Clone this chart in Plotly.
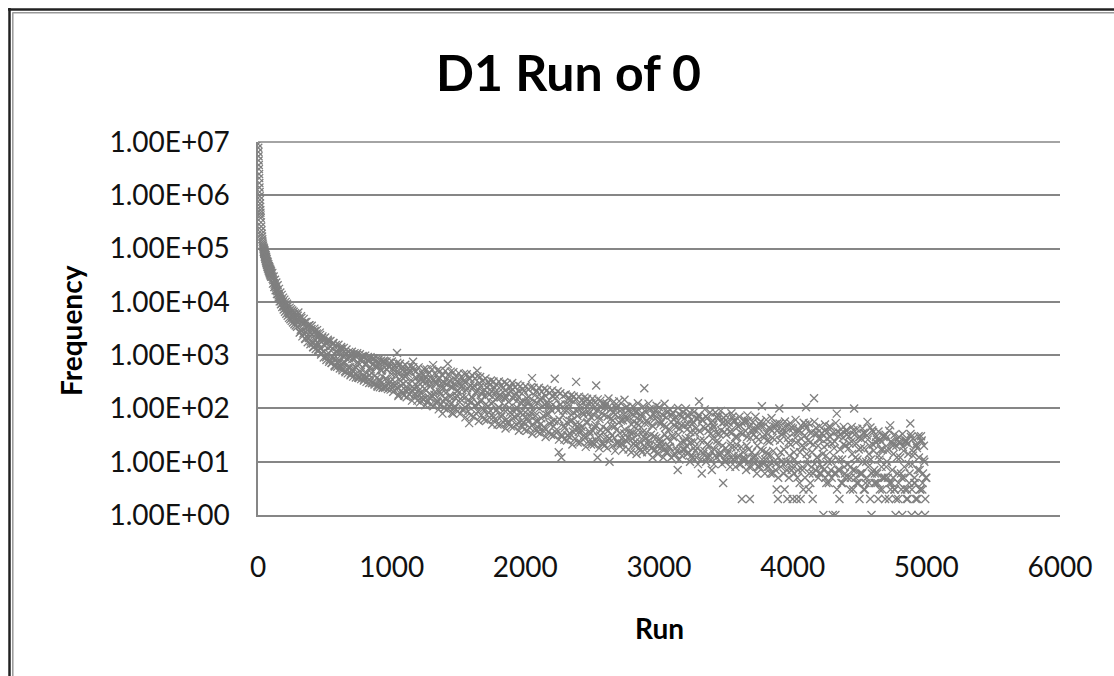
import plotly.graph_objects as go

# ---------------- data ----------------
runs_head = [1, 2, 3, 4, 5, 6, 7, 8, 9, 10, 11, 12, 13, 14, 15, 16, 17, 18, 19, 20,
             22, 24, 26, 28, 30, 32, 34, 36, 38, 40]
freq_head = [9200000, 7800000, 6500000, 5400000, 4500000, 3700000, 3100000, 2500000, 2100000, 1700000,
             1400000, 1150000, 960000, 820000, 700000, 610000, 530000, 470000, 420000, 375000,
             310000, 260000, 220000, 190000, 168000, 150000, 135000, 124000, 114000, 106000]

runs_b = list(range(42, 101, 2))
freq_b = [99000, 93000, 89000, 83000, 80000, 75000, 72000, 68000, 66000, 62000,
          60000, 57000, 55500, 53000, 51000, 49500, 47000, 46000, 44500, 43000,
          41500, 40500, 39000, 38000, 37000, 36000, 35000, 34200, 33000, 32500]

runs_b2 = list(range(43, 100, 2))
freq_b2 = [86000, 100000, 80000, 92000, 70000, 82000, 64000, 76000, 58000, 70000,
           53000, 64000, 49000, 58000, 45000, 55000, 42000, 51000, 39000, 47000,
           37000, 44500, 34500, 42000, 32500, 40000, 31000, 37500, 29500]

runs_c = list(range(105, 301, 5))
freq_c = [30000, 27000, 25500, 22500, 21000, 19500, 18500, 16500, 15800, 14000,
          13200, 12000, 11500, 10200, 10800, 9300, 9800, 8600, 8200, 8800,
          7600, 7900, 7000, 7400, 6600, 6200, 6800, 5900, 6300, 5500,
          5200, 5800, 5000, 5300, 4700, 5100, 4500, 4300, 4800, 4200]

runs_c2 = list(range(107, 298, 5))
freq_c2 = [35000, 22000, 30000, 19000, 26000, 16500, 23000, 14000, 20500, 12000,
           17500, 10200, 15000, 9000, 13500, 8000, 12000, 7200, 11000, 6500,
           10000, 6000, 9200, 5500, 8500, 5000, 7800, 4700, 7300, 4400,
           6900, 4100, 6500, 3800, 6100, 3600, 5800, 3400, 5500]

runs_d = list(range(310, 5001, 10))
freq_d = [
    4800, 3000, 4000, 2550, 4150, 2700, 3500, 2100, 2600, 3100,
    1650, 2700, 1900, 2550, 1260, 1950, 1360, 2100, 1150, 1500,
    910, 1750, 1080, 1440, 720, 1600, 880, 1150, 735, 1240,
    740, 1300, 565, 920, 730, 1050, 530, 875, 595, 1020,
    500, 860, 585, 1020, 380, 670, 480, 830, 400, 670,
    470, 810, 345, 600, 460, 675, 295, 600, 375, 735,
    320, 540, 400, 750, 260, 550, 335, 595, 265, 440,
    530, 270, 420, 1100, 170, 455, 270, 525, 290, 395,
    210, 450, 285, 500, 215, 750, 235, 375, 170, 310,
    410, 190, 320, 145, 350, 220, 435, 160, 260, 355,
    650, 180, 300, 140, 350, 205, 295, 80, 245, 155,
    350, 690, 170, 255, 125, 80, 290, 155, 210, 310,
    130, 255, 165, 330, 105, 220, 140, 53, 270, 165,
    245, 110, 195, 510, 120, 255, 145, 205, 90, 170,
    250, 110, 180, 90, 210, 130, 245, 90, 155, 105,
    180, 70, 240, 94, 150, 62, 195, 103, 250, 78,
    153, 70, 195, 102, 162, 55, 125, 76, 212, 84,
    156, 57, 128, 71, 370, 89, 176, 58, 125, 43,
    150, 65, 110, 45, 171, 76, 119, 52, 95, 170,
    46, 360, 105, 56, 15, 117, 12, 75, 47, 119,
    55, 97, 34, 143, 60, 84, 40, 315, 72, 36,
    115, 45, 82, 31, 136, 53, 88, 37, 69, 24,
    100, 44, 270, 12, 71, 31, 106, 45, 74, 28,
    124, 38, 10, 64, 31, 83, 46, 102, 23, 55,
    74, 27, 60, 34, 103, 24, 64, 37, 81, 27,
    57, 20, 86, 32, 49, 23, 71, 36, 240, 27,
    59, 21, 98, 32, 48, 16, 64, 28, 80, 22,
    51, 23, 74, 17, 44, 28, 87, 19, 56, 31,
    61, 14, 45, 7, 77, 23, 49, 17, 65, 27,
    40, 15, 83, 23, 51, 18, 35, 12, 64, 135,
    25, 6, 45, 16, 71, 21, 38, 13, 54, 27,
    44, 13, 70, 22, 33, 15, 53, 4, 36, 18,
    56, 11, 36, 19, 70, 13, 29, 21, 46, 9,
    35, 2, 15, 55, 11, 29, 17, 2, 39, 12,
    40, 13, 29, 8, 51, 17, 110, 9, 32, 15,
    25, 8, 42, 13, 28, 10, 50, 3, 2, 100,
    15, 32, 9, 3, 36, 2, 23, 10, 44, 2,
    15, 28, 2, 7, 38, 2, 20, 3, 31, 105,
    11, 3, 23, 8, 2, 155, 34, 12, 20, 6,
    27, 8, 1, 38, 13, 21, 4, 29, 10, 1,
    18, 1, 80, 7, 2, 33, 11, 21, 5, 39,
    9, 18, 3, 24, 7, 100, 12, 4, 28, 2,
    18, 6, 35, 3, 10, 56, 14, 2, 1, 21,
    7, 4, 26, 2, 11, 17, 3, 29, 5, 8,
    16, 2, 48, 4, 20, 3, 1, 12, 2, 24,
    6, 1, 16, 3, 25, 2, 9, 52, 1, 13,
    4, 2, 18, 1, 7, 30, 3, 11, 1, 5,
]

runs_d2 = list(range(315, 5000, 10))
freq_d2 = [
    2700, 5000, 3000, 3950, 2000, 3350, 2450, 3650, 1800,
    2500, 1400, 2850, 1550, 2200, 1600, 2400, 1100, 1850, 1170,
    1700, 1020, 1830, 820, 1230, 925, 1680, 610, 1190, 865,
    1070, 640, 1320, 720, 1030, 475, 850, 590, 960, 450,
    845, 565, 980, 450, 730, 370, 815, 535, 930, 365,
    665, 380, 775, 420, 540, 300, 840, 410, 620, 255,
    640, 340, 515, 245, 695, 365, 530, 290, 610, 320,
    240, 590, 310, 480, 245, 630, 325, 390, 190, 485,
    395, 240, 495, 185, 340, 255, 520, 190, 375, 255,
    220, 355, 160, 425, 235, 300, 130, 355, 185, 295,
    170, 350, 205, 285, 130, 380, 185, 250, 135, 300,
    195, 280, 130, 330, 170, 250, 105, 350, 175, 220,
    290, 150, 225, 98, 310, 165, 240, 115, 355, 130,
    155, 270, 115, 210, 87, 300, 135, 185, 98, 225,
    120, 200, 84, 275, 125, 165, 70, 205, 94, 165,
    103, 160, 76, 200, 112, 166, 55, 133, 84, 210,
    65, 175, 99, 137, 73, 210, 82, 140, 54, 110,
    130, 67, 163, 86, 110, 50, 137, 73, 211, 58,
    99, 51, 156, 73, 117, 40, 132, 78, 103, 56,
    118, 58, 156, 40, 92, 62, 119, 30, 91, 43,
    91, 31, 117, 58, 75, 37, 134, 50, 89, 42,
    51, 99, 38, 76, 28, 109, 55, 79, 33, 126,
    38, 74, 49, 93, 29, 63, 39, 81, 22, 105,
    41, 70, 27, 93, 47, 60, 28, 77, 40, 110,
    34, 59, 22, 77, 40, 63, 28, 92, 34, 50,
    35, 73, 24, 52, 39, 61, 17, 80, 29, 53,
    35, 53, 25, 70, 18, 46, 30, 92, 20, 56,
    27, 57, 20, 48, 32, 68, 15, 41, 24, 74,
    29, 47, 18, 56, 32, 42, 16, 71, 24, 48,
    20, 50, 28, 36, 13, 56, 24, 42, 18, 74,
    37, 16, 59, 25, 42, 12, 48, 20, 33, 7,
    49, 17, 35, 25, 73, 13, 39, 20, 55, 10,
    32, 15, 45, 22, 35, 11, 57, 18, 29, 13,
    48, 19, 33, 11, 38, 20, 58, 8, 28, 15,
    32, 12, 40, 20, 26, 9, 46, 16, 28, 11,
    34, 14, 24, 6, 38, 16, 26, 9, 52, 12,
    25, 10, 35, 17, 46, 7, 28, 13, 21, 8,
    34, 11, 23, 5, 40, 15, 27, 8, 19, 50,
    14, 25, 6, 34, 15, 21, 9, 43, 12, 27,
    9, 34, 14, 19, 5, 27, 10, 46, 7, 22,
    13, 24, 6, 37, 11, 17, 4, 28, 8, 20,
    32, 9, 22, 5, 14, 39, 7, 22, 11, 17,
    6, 27, 10, 18, 4, 31, 8, 20, 11, 39,
    16, 6, 23, 4, 13, 26, 8, 17, 5, 32,
    10, 18, 4, 24, 7, 14, 3, 20, 6, 29,
    12, 5, 19, 8, 23, 3, 14, 6, 29, 9,
    15, 4, 20, 7, 12, 3, 25, 6, 10, 5,
]

runs_e = list(range(302, 4993, 10))
freq_e = [
    6300, 2650, 5400, 2250, 4800, 2050, 4200, 1750, 3600, 1600,
    3550, 1420, 3150, 1300, 2950, 1200, 2650, 1030, 2250, 900,
    2150, 810, 1940, 750, 1840, 710, 1700, 640, 1550, 605,
    1570, 560, 1420, 520, 1370, 500, 1280, 455, 1150, 420,
    1160, 395, 1090, 380, 1090, 380, 1040, 355, 965, 335,
    980, 315, 920, 300, 910, 300, 875, 280, 815, 270,
    830, 250, 790, 245, 790, 245, 765, 230, 720, 225,
    760, 205, 640, 230, 720, 180, 690, 215, 600, 175,
    660, 162, 560, 185, 620, 140, 595, 170, 500, 140,
    590, 130, 480, 150, 550, 115, 540, 140, 460, 118,
    540, 110, 450, 128, 515, 96, 505, 120, 420, 101,
    505, 95, 420, 110, 490, 82, 480, 102, 400, 88,
    460, 79, 390, 92, 445, 68, 437, 88, 370, 74,
    420, 70, 360, 80, 400, 58, 390, 74, 330, 62,
    365, 60, 310, 68, 335, 50, 320, 62, 280, 50,
    320, 49, 270, 56, 310, 42, 290, 52, 255, 46,
    300, 45, 250, 50, 280, 38, 260, 47, 230, 40,
    260, 38, 225, 44, 250, 33, 245, 41, 210, 36,
    245, 34, 205, 39, 234, 29, 220, 36, 195, 32,
    218, 31, 180, 35, 208, 26, 192, 32, 170, 26,
    182, 25, 150, 29, 177, 21, 167, 27, 150, 23,
    166, 23, 140, 26, 161, 19, 152, 24, 135, 21,
    153, 21, 128, 24, 148, 18, 140, 22, 125, 20,
    119, 18, 154, 27, 99, 20, 133, 16, 105, 22,
    137, 22, 96, 17, 146, 25, 106, 17, 86, 15,
    110, 22, 86, 14, 125, 18, 76, 15, 109, 20,
    86, 15, 123, 20, 96, 12, 76, 17, 112, 14,
    105, 18, 78, 12, 122, 15, 84, 19, 96, 12,
    83, 13, 68, 16, 102, 11, 74, 13, 85, 17,
    99, 14, 73, 10, 61, 12, 86, 16, 64, 9,
    74, 11, 62, 14, 96, 10, 66, 12, 84, 16,
    58, 9, 84, 12, 64, 14, 90, 9, 67, 11,
    73, 14, 54, 8, 81, 11, 60, 8, 49, 12,
    70, 9, 53, 12, 60, 7, 74, 10, 46, 8,
    55, 10, 70, 6, 44, 8, 57, 11, 46, 6,
    61, 8, 44, 10, 66, 6, 46, 7, 38, 5,
    52, 8, 40, 6, 57, 10, 46, 5, 53, 7,
    42, 6, 61, 9, 36, 4, 47, 7, 54, 5,
    43, 9, 52, 4, 36, 6, 56, 7, 34, 5,
    46, 6, 34, 7, 50, 4, 37, 6, 45, 5,
    35, 6, 53, 3, 30, 7, 40, 4, 45, 6,
    38, 5, 30, 8, 45, 3, 32, 5, 41, 4,
    29, 6, 42, 3, 34, 5, 26, 4, 44, 6,
    36, 4, 29, 6, 37, 3, 24, 5, 31, 2,
    28, 5, 38, 3, 23, 5, 32, 2, 26, 4,
    22, 3, 33, 5, 25, 2, 22, 4, 33, 3,
    27, 5, 21, 2, 30, 3, 24, 4, 20, 2,
]

x_ticks = [0, 1000, 2000, 3000, 4000, 5000, 6000]
y_ticks = [1, 10, 100, 1000, 10000, 100000, 1000000, 10000000]
y_tick_text = ["1.00E+00", "1.00E+01", "1.00E+02", "1.00E+03",
               "1.00E+04", "1.00E+05", "1.00E+06", "1.00E+07"]

title_text = "D1 Run of 0"
x_title = "Run"
y_title = "Frequency"

# ---------------- figure ----------------
runs = runs_head + runs_b + runs_b2 + runs_c + runs_c2 + runs_d + runs_d2 + runs_e
freq = freq_head + freq_b + freq_b2 + freq_c + freq_c2 + freq_d + freq_d2 + freq_e

W, H = 1114, 676
L, R, T, B = 258, 1060, 142, 515  # plot area in pixels
FONT = "Lato, Carlito, Arial, sans-serif"
GRAY = "#868686"
MARK = "#7f7f7f"


def px_x(p):
    return (p - L) / (R - L)


def px_y(p):
    return (B - p) / (B - T)


fig = go.Figure()
fig.add_trace(go.Scatter(
    x=runs, y=freq, mode="markers",
    marker=dict(symbol="x-thin", size=8, color=MARK,
                line=dict(width=1.3, color=MARK)),
    showlegend=False, hoverinfo="x+y",
))

fig.update_layout(
    width=W, height=H,
    margin=dict(l=L, r=W - R, t=T, b=H - B, pad=0),
    paper_bgcolor="white", plot_bgcolor="white",
    font=dict(family=FONT, size=28, color="#111111"),
    xaxis=dict(range=[0, 6000], tickvals=x_ticks, ticktext=[str(v) for v in x_ticks],
               showgrid=False, zeroline=False, showline=True, linecolor=GRAY, linewidth=1.5,
               ticks="", ticklabelstandoff=27, tickfont=dict(size=28, family=FONT)),
    yaxis=dict(type="log", range=[0, 7], tickvals=y_ticks, ticktext=y_tick_text,
               showgrid=True, gridcolor=GRAY, gridwidth=1.5, zeroline=False,
               showline=True, linecolor=GRAY, linewidth=1.5,
               ticks="", ticklabelstandoff=21, tickfont=dict(size=28, family=FONT)),
    annotations=[
        dict(text="<b>" + title_text + "</b>", xref="paper", yref="paper",
             x=px_x(568), y=px_y(72), xanchor="center", yanchor="middle",
             showarrow=False, font=dict(size=50, family=FONT, color="#000000")),
        dict(text="<b>" + x_title + "</b>", xref="paper", yref="paper",
             x=px_x(659), y=px_y(628), xanchor="center", yanchor="middle",
             showarrow=False, font=dict(size=28, family=FONT, color="#000000")),
        dict(text="<b>" + y_title + "</b>", xref="paper", yref="paper",
             x=px_x(71), y=px_y(331), xanchor="center", yanchor="middle", textangle=-90,
             showarrow=False, font=dict(size=28, family=FONT, color="#000000")),
    ],
    shapes=[
        # top gridline at 1.00E+07 (edge of range)
        dict(type="line", xref="paper", yref="paper", x0=0, x1=1, y0=1, y1=1,
             line=dict(color=GRAY, width=1.5), layer="below"),
        # outer chart frame (top and left, double line)
        dict(type="line", xref="paper", yref="paper", x0=px_x(8), x1=px_x(W + 5),
             y0=px_y(9.5), y1=px_y(9.5), line=dict(color="#222222", width=2.5)),
        dict(type="line", xref="paper", yref="paper", x0=px_x(12.5), x1=px_x(W + 5),
             y0=px_y(12.8), y1=px_y(12.8), line=dict(color="#999999", width=1.5)),
        dict(type="line", xref="paper", yref="paper", x0=px_x(9.5), x1=px_x(9.5),
             y0=px_y(8), y1=px_y(H + 5), line=dict(color="#222222", width=2.5)),
        dict(type="line", xref="paper", yref="paper", x0=px_x(12.8), x1=px_x(12.8),
             y0=px_y(12.5), y1=px_y(H + 5), line=dict(color="#999999", width=1.5)),
    ],
)

fig.write_html("out.html")
